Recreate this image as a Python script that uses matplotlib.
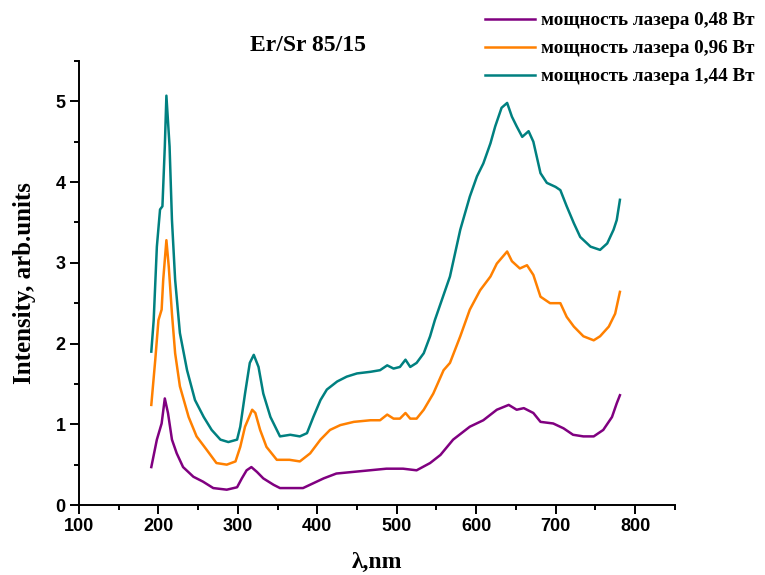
import matplotlib.pyplot as plt
from matplotlib.ticker import MultipleLocator

# spectra, laser power 0.48 W
wl_048 = [191, 198, 204, 208, 212, 217, 223, 231, 244, 256, 269, 286, 299, 305, 311, 317, 324, 332,
          345, 353, 370, 382, 395, 408, 424, 445, 466, 487, 508, 525, 542, 555, 571, 592, 609, 626,
          641, 651, 660, 672, 681, 697, 710, 722, 735, 748, 760, 771, 777, 781]
int_048 = [0.47, 0.81, 1.01, 1.32, 1.14, 0.81, 0.64, 0.47, 0.35, 0.29, 0.21, 0.19, 0.22, 0.33, 0.43,
           0.47, 0.41, 0.33, 0.25, 0.21, 0.21, 0.21, 0.27, 0.33, 0.39, 0.41, 0.43, 0.45, 0.45, 0.43,
           0.52, 0.62, 0.81, 0.97, 1.05, 1.18, 1.24, 1.18, 1.20, 1.14, 1.03, 1.01, 0.95, 0.87, 0.85,
           0.85, 0.93, 1.09, 1.26, 1.36]

# spectra, laser power 0.96 W
wl_096 = [191, 196, 200, 204, 206, 210, 213, 217, 221, 227, 238, 248, 261, 273, 286, 297, 303, 309,
          318, 322, 328, 336, 349, 365, 378, 391, 404, 416, 429, 446, 467, 479, 488, 496, 504, 511,
          517, 525, 534, 546, 559, 567, 580, 592, 605, 618, 626, 639, 645, 655, 664, 672, 681, 693,
          706, 714, 723, 735, 748, 756, 767, 775, 781]
int_096 = [1.24, 1.80, 2.29, 2.42, 2.79, 3.28, 2.95, 2.37, 1.88, 1.47, 1.09, 0.85, 0.68, 0.52, 0.50,
           0.54, 0.72, 0.97, 1.18, 1.14, 0.93, 0.72, 0.56, 0.56, 0.54, 0.64, 0.81, 0.93, 0.99, 1.03,
           1.05, 1.05, 1.12, 1.07, 1.07, 1.14, 1.07, 1.07, 1.18, 1.38, 1.67, 1.76, 2.09, 2.42, 2.66,
           2.83, 2.99, 3.14, 3.02, 2.93, 2.97, 2.85, 2.58, 2.50, 2.50, 2.33, 2.21, 2.09, 2.04, 2.09,
           2.21, 2.37, 2.64]

# spectra, laser power 1.44 W
wl_144 = [191, 194, 198, 202, 205, 208, 210, 214, 217, 221, 227, 236, 246, 257, 267, 278, 288, 299,
          303, 309, 315, 320, 326, 332, 341, 353, 366, 378, 387, 395, 404, 412, 425, 437, 450, 467,
          479, 488, 496, 504, 511, 517, 525, 534, 542, 548, 567, 580, 592, 601, 609, 618, 624, 632,
          639, 645, 651, 658, 666, 672, 681, 689, 700, 706, 714, 723, 731, 744, 756, 765, 773, 777, 781]
int_144 = [1.90, 2.29, 3.20, 3.66, 3.70, 4.44, 5.07, 4.44, 3.53, 2.79, 2.13, 1.67, 1.30, 1.09, 0.93,
           0.81, 0.78, 0.81, 0.97, 1.38, 1.76, 1.86, 1.71, 1.38, 1.09, 0.85, 0.87, 0.85, 0.89, 1.09,
           1.30, 1.43, 1.53, 1.59, 1.63, 1.65, 1.67, 1.73, 1.69, 1.71, 1.80, 1.71, 1.76, 1.88, 2.09,
           2.29, 2.83, 3.41, 3.82, 4.07, 4.23, 4.48, 4.69, 4.92, 4.98, 4.81, 4.69, 4.56, 4.63, 4.50,
           4.11, 3.99, 3.94, 3.90, 3.70, 3.49, 3.32, 3.20, 3.16, 3.24, 3.41, 3.53, 3.78]

labels = ['мощность лазера 0,48 Вт', 'мощность лазера 0,96 Вт', 'мощность лазера 1,44 Вт']
colors = ['#800080', '#ff8000', '#008080']

serif = 'Liberation Serif'
sans = 'Liberation Sans'

fig = plt.figure(figsize=(7.65, 5.75), dpi=100)
ax = fig.add_axes([0.1033, 0.1217, 0.7787, 0.7723])

lines = []
for wl, val, c in zip([wl_048, wl_096, wl_144], [int_048, int_096, int_144], colors):
    ln, = ax.plot(wl, val, color=c, lw=1.8)
    lines.append(ln)

ax.set_xlim(100, 850)
ax.set_ylim(0, 5.5)
ax.xaxis.set_major_locator(MultipleLocator(100))
ax.xaxis.set_minor_locator(MultipleLocator(50))
ax.yaxis.set_major_locator(MultipleLocator(1))
ax.yaxis.set_minor_locator(MultipleLocator(0.5))
ax.spines['top'].set_visible(False)
ax.spines['right'].set_visible(False)
for s in ('left', 'bottom'):
    ax.spines[s].set_linewidth(1.4)
ax.tick_params(which='major', direction='out', length=6.5, width=1.4, pad=3)
ax.tick_params(which='minor', direction='out', length=3.5, width=1.4)
for t in ax.get_xticklabels() + ax.get_yticklabels():
    t.set_fontfamily(sans)
    t.set_fontweight('bold')
    t.set_fontsize(13)

ax.set_xlabel('λ,nm', fontfamily=serif, fontweight='bold', fontsize=17, labelpad=12)
ax.set_ylabel('Intensity, arb.units', fontfamily=serif, fontweight='bold', fontsize=18, labelpad=14)

fig.text(0.402, 0.921, 'Er/Sr 85/15', ha='center', va='center',
         fontfamily=serif, fontweight='bold', fontsize=17)

fig.legend(lines, labels, loc='upper left', bbox_to_anchor=(0.612, 1.009),
           frameon=False, handlelength=2.6, handletextpad=0.3, labelspacing=0.55,
           prop={'family': serif, 'weight': 'bold', 'size': 13.8})

fig.savefig('out.png', dpi=100)
